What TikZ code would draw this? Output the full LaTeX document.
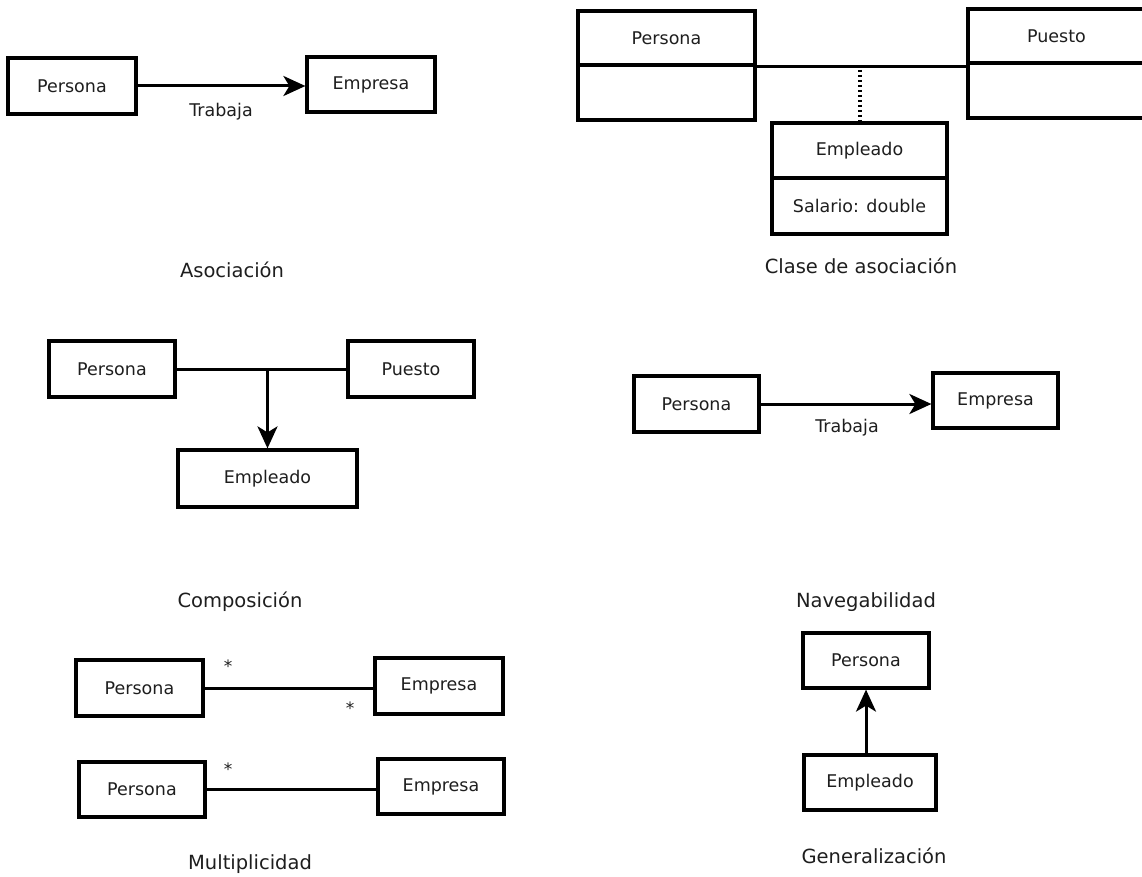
\documentclass[tikz,border=0pt]{standalone}
\usepackage{fontspec}
\setmainfont{DejaVu Sans}
\usetikzlibrary{arrows.meta}
\definecolor{ink}{HTML}{1E1E1E}
\tikzset{
  umlbox/.style={draw=black, line width=3.2pt, inner sep=0pt, text=ink,
    font=\fontsize{17.5}{20}\selectfont, minimum width=#1},
  umlbox/.default=126pt,
  conn/.style={draw=black, line width=3pt},
  arr/.style={conn, -{Stealth[length=22pt,width=20pt,inset=6pt]}},
  assocdot/.style={draw=black, line width=4pt, dash pattern=on 2.5pt off 2.5pt},
  lbl/.style={text=ink, inner sep=0pt, font=\fontsize{17.5}{20}\selectfont},
  mult/.style={text=ink, inner sep=0pt, font=\fontsize{17}{19}\selectfont},
  caption/.style={text=ink, inner sep=0pt, font=\fontsize{19.5}{22}\selectfont}
}
\begin{document}
\begin{tikzpicture}[x=1pt, y=-1pt]
\useasboundingbox (0,0) rectangle (1142,877);

% --- Asociacion
\node[umlbox=128pt, minimum height=56pt] (a1p) at (72,86) {Persona};
\node[umlbox=128pt, minimum height=55pt] (a1e) at (371,84.5) {Empresa};
\draw[arr] (a1p.east) -- (a1p.east -| a1e.west);
\node[lbl] (a1t) at (221,112) {Trabaja};
\node[caption] (a1c) at (232,270) {Asociación};

% --- Clase de asociacion
\node[umlbox=177pt, minimum height=54pt] (cpt) at (666.5,38) {Persona};
\node[umlbox=177pt, minimum height=55pt] (cpb) at (666.5,92.5) {};
\node[umlbox=177pt, minimum height=54pt] (cqt) at (1056.5,36) {Puesto};
\node[umlbox=177pt, minimum height=55pt] (cqb) at (1056.5,90.5) {};
\draw[conn] (cpt.south east) -- (cpt.south east -| cqt.west);
\coordinate (cmid) at (860,70);
\node[umlbox=175pt, minimum height=55pt] (cet) at (859.5,150.5) {Empleado};
\node[umlbox=175pt, minimum height=56pt] (ceb) at (859.5,206) {Salario: double};
\draw[assocdot] (cmid) -- (cmid |- cet.north);
\node[caption] (cc) at (861,266) {Clase de asociación};

% --- Composicion
\node[umlbox=126pt, minimum height=56pt] (kp) at (112,369) {Persona};
\node[umlbox=126pt, minimum height=56pt] (kq) at (411,369) {Puesto};
\node[umlbox=179pt, minimum height=57pt] (ke) at (267.5,478.5) {Empleado};
\draw[conn] (kp.east) -- (kq.west);
\coordinate (kj) at (kp.east -| ke.north);
\draw[arr] (kj) -- (ke.north);
\node[caption] (kc) at (240,602) {Composición};

% --- Navegabilidad
\node[umlbox=125pt, minimum height=56pt] (np) at (696.5,404) {Persona};
\node[umlbox=125pt, minimum height=55pt] (ne) at (995.5,400.5) {Empresa};
\draw[arr] (np.east) -- (np.east -| ne.west);
\node[lbl] (nt) at (847,428) {Trabaja};
\node[caption] (nc) at (866,602) {Navegabilidad};

% --- Multiplicidad
\node[umlbox=127pt, minimum height=56pt] (m1p) at (139.5,688) {Persona};
\node[umlbox=128pt, minimum height=56pt] (m1e) at (439,686) {Empresa};
\draw[conn] (m1p.east) -- (m1p.east -| m1e.west);
\node[mult] (m1s1) at (228,666) {*};
\node[mult] (m1s2) at (350,708) {*};
\node[umlbox=126pt, minimum height=55pt] (m2p) at (142,789.5) {Persona};
\node[umlbox=126pt, minimum height=55pt] (m2e) at (441,786.5) {Empresa};
\draw[conn] (m2p.east) -- (m2p.east -| m2e.west);
\node[mult] (m2s1) at (228,769) {*};
\node[caption] (mc) at (250,864) {Multiplicidad};

% --- Generalizacion
\node[umlbox=126pt, minimum height=55pt] (gp) at (866,660.5) {Persona};
\node[umlbox=132pt, minimum height=55pt] (ge) at (870,782.5) {Empleado};
\draw[arr] (gp.south |- ge.north) -- (gp.south);
\node[caption] (gc) at (874,856) {Generalización};
\end{tikzpicture}
\end{document}
